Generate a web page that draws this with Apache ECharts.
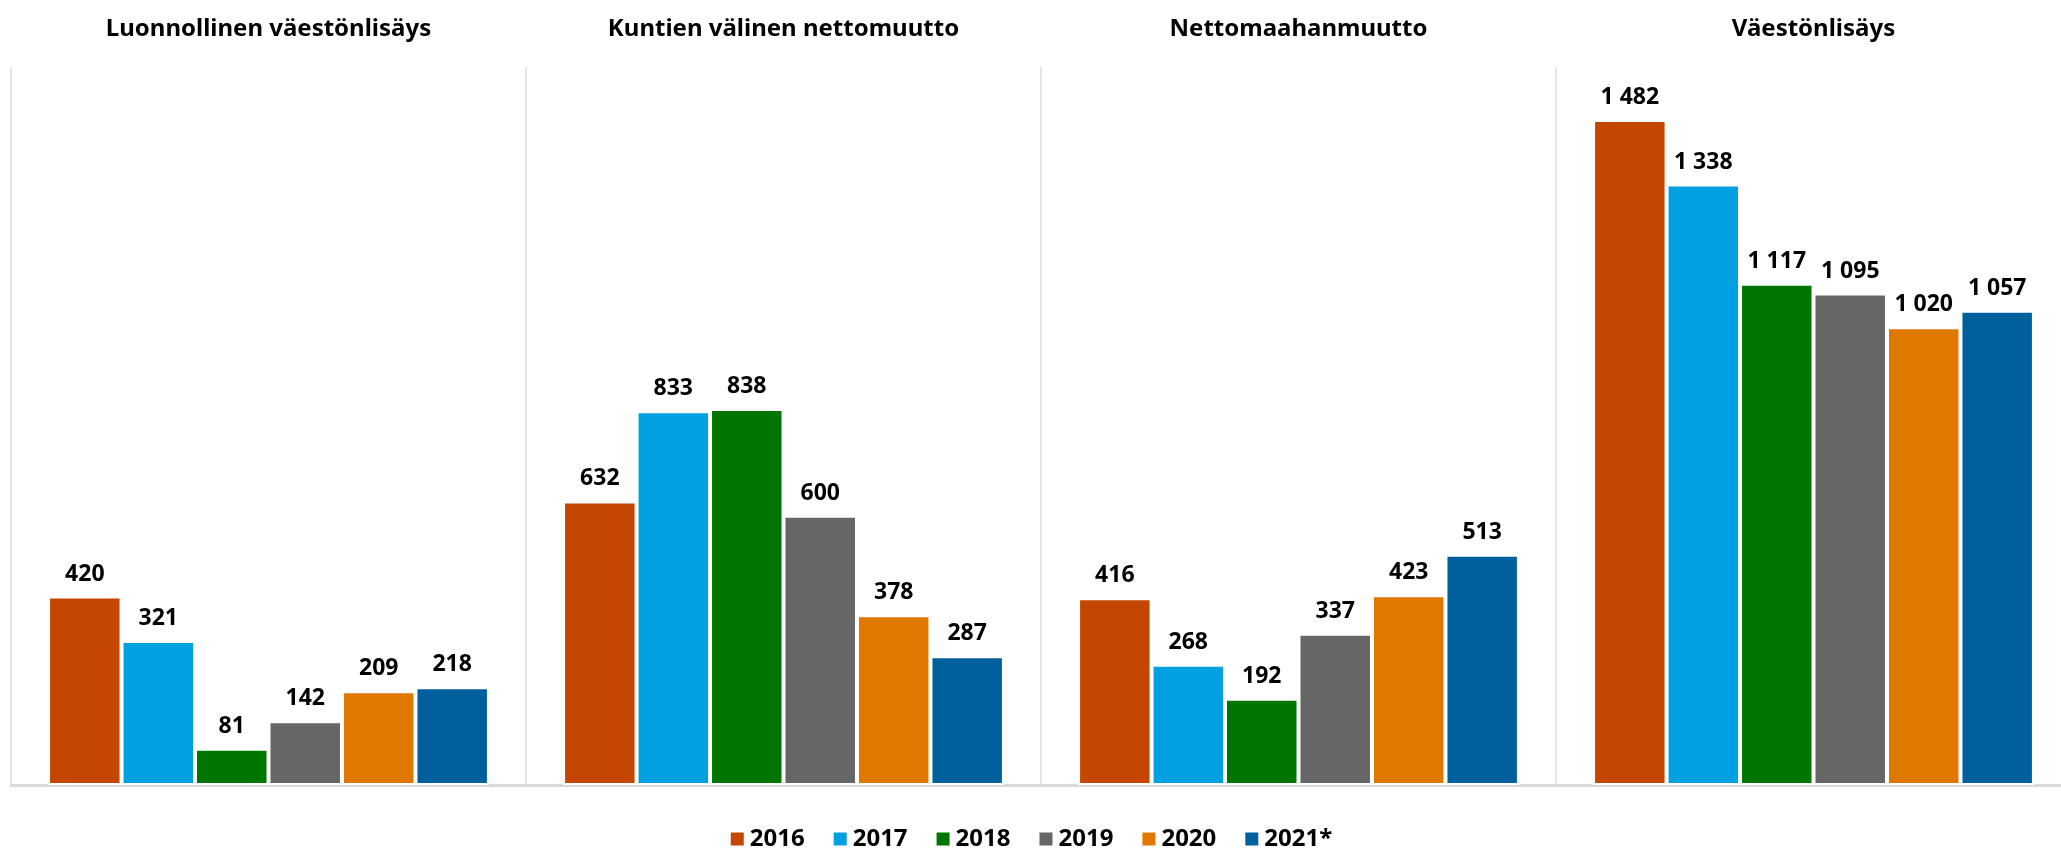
<!DOCTYPE html>
<html>
<head>
<meta charset="utf-8">
<script src="https://cdn.jsdelivr.net/npm/echarts@6/dist/echarts.min.js"></script>
<style>
  html, body { margin: 0; padding: 0; background: #fff; }
  #chart_box { width: 2061px; height: 852px; }
</style>
</head>
<body>
<div id="chart_box"></div>
<script>
// paneelit
var categories = ["Luonnollinen väestönlisäys", "Kuntien välinen nettomuutto", "Nettomaahanmuutto", "Väestönlisäys"];
var years = ["2016", "2017", "2018", "2019", "2020", "2021*"];
var y2016 = [420, 632, 416, 1482];
var y2017 = [321, 833, 268, 1338];
var y2018 = [81, 838, 192, 1117];
var y2019 = [142, 600, 337, 1095];
var y2020 = [209, 378, 423, 1020];
var y2021 = [218, 287, 513, 1057];
var colors = ["#c44600", "#00a0e1", "#007500", "#666666", "#e07800", "#00609e"];

var font = "Noto Sans";

// 1482 -> "1 482"
function formatNum(num) {
  return String(num).replace(/\B(?=(\d{3})+(?!\d))/g, " ");
}

var values = [y2016, y2017, y2018, y2019, y2020, y2021];
var series = years.map(function (name, i) {
  return {
    name: name,
    type: "bar",
    data: values[i],
    barGap: "0%",
    barCategoryGap: "14.4%",
    itemStyle: { color: colors[i], borderColor: "#fff", borderWidth: 2 },
    label: {
      show: true,
      position: "top",
      distance: 11,
      color: "#000",
      fontFamily: font,
      fontWeight: "bold",
      fontSize: 23,
      formatter: function (p) { return formatNum(p.value); }
    }
  };
});

var myecharts = echarts.init(document.getElementById("chart_box"));
var option = {
  animation: false,
  color: colors,
  legend: {
    data: years,
    top: 822,
    left: "center",
    itemWidth: 15,
    itemHeight: 15,
    itemGap: 27,
    icon: "rect",
    textStyle: { fontFamily: font, fontWeight: "bold", fontSize: 24, color: "#000" }
  },
  grid: { left: 11, width: 2060, top: 67, bottom: 67, outerBoundsMode: "none" },
  xAxis: [
    {
      type: "category",
      data: categories,
      position: "bottom",
      axisLine: { lineStyle: { color: "#d9d9d9", width: 3 } },
      axisTick: { show: false },
      axisLabel: { show: false },
      splitLine: { show: true, lineStyle: { color: "#e6e6e6", width: 2 } }
    },
    {
      type: "category",
      data: categories,
      position: "top",
      axisLine: { show: false },
      axisTick: { show: false },
      splitLine: { show: false },
      axisLabel: {
        margin: 26,
        color: "#000",
        fontFamily: font,
        fontWeight: "bold",
        fontSize: 24
      }
    }
  ],
  yAxis: {
    type: "value",
    min: 0,
    max: 1600,
    show: false,
    splitLine: { show: false }
  },
  series: series
};
myecharts.setOption(option);
</script>
</body>
</html>
